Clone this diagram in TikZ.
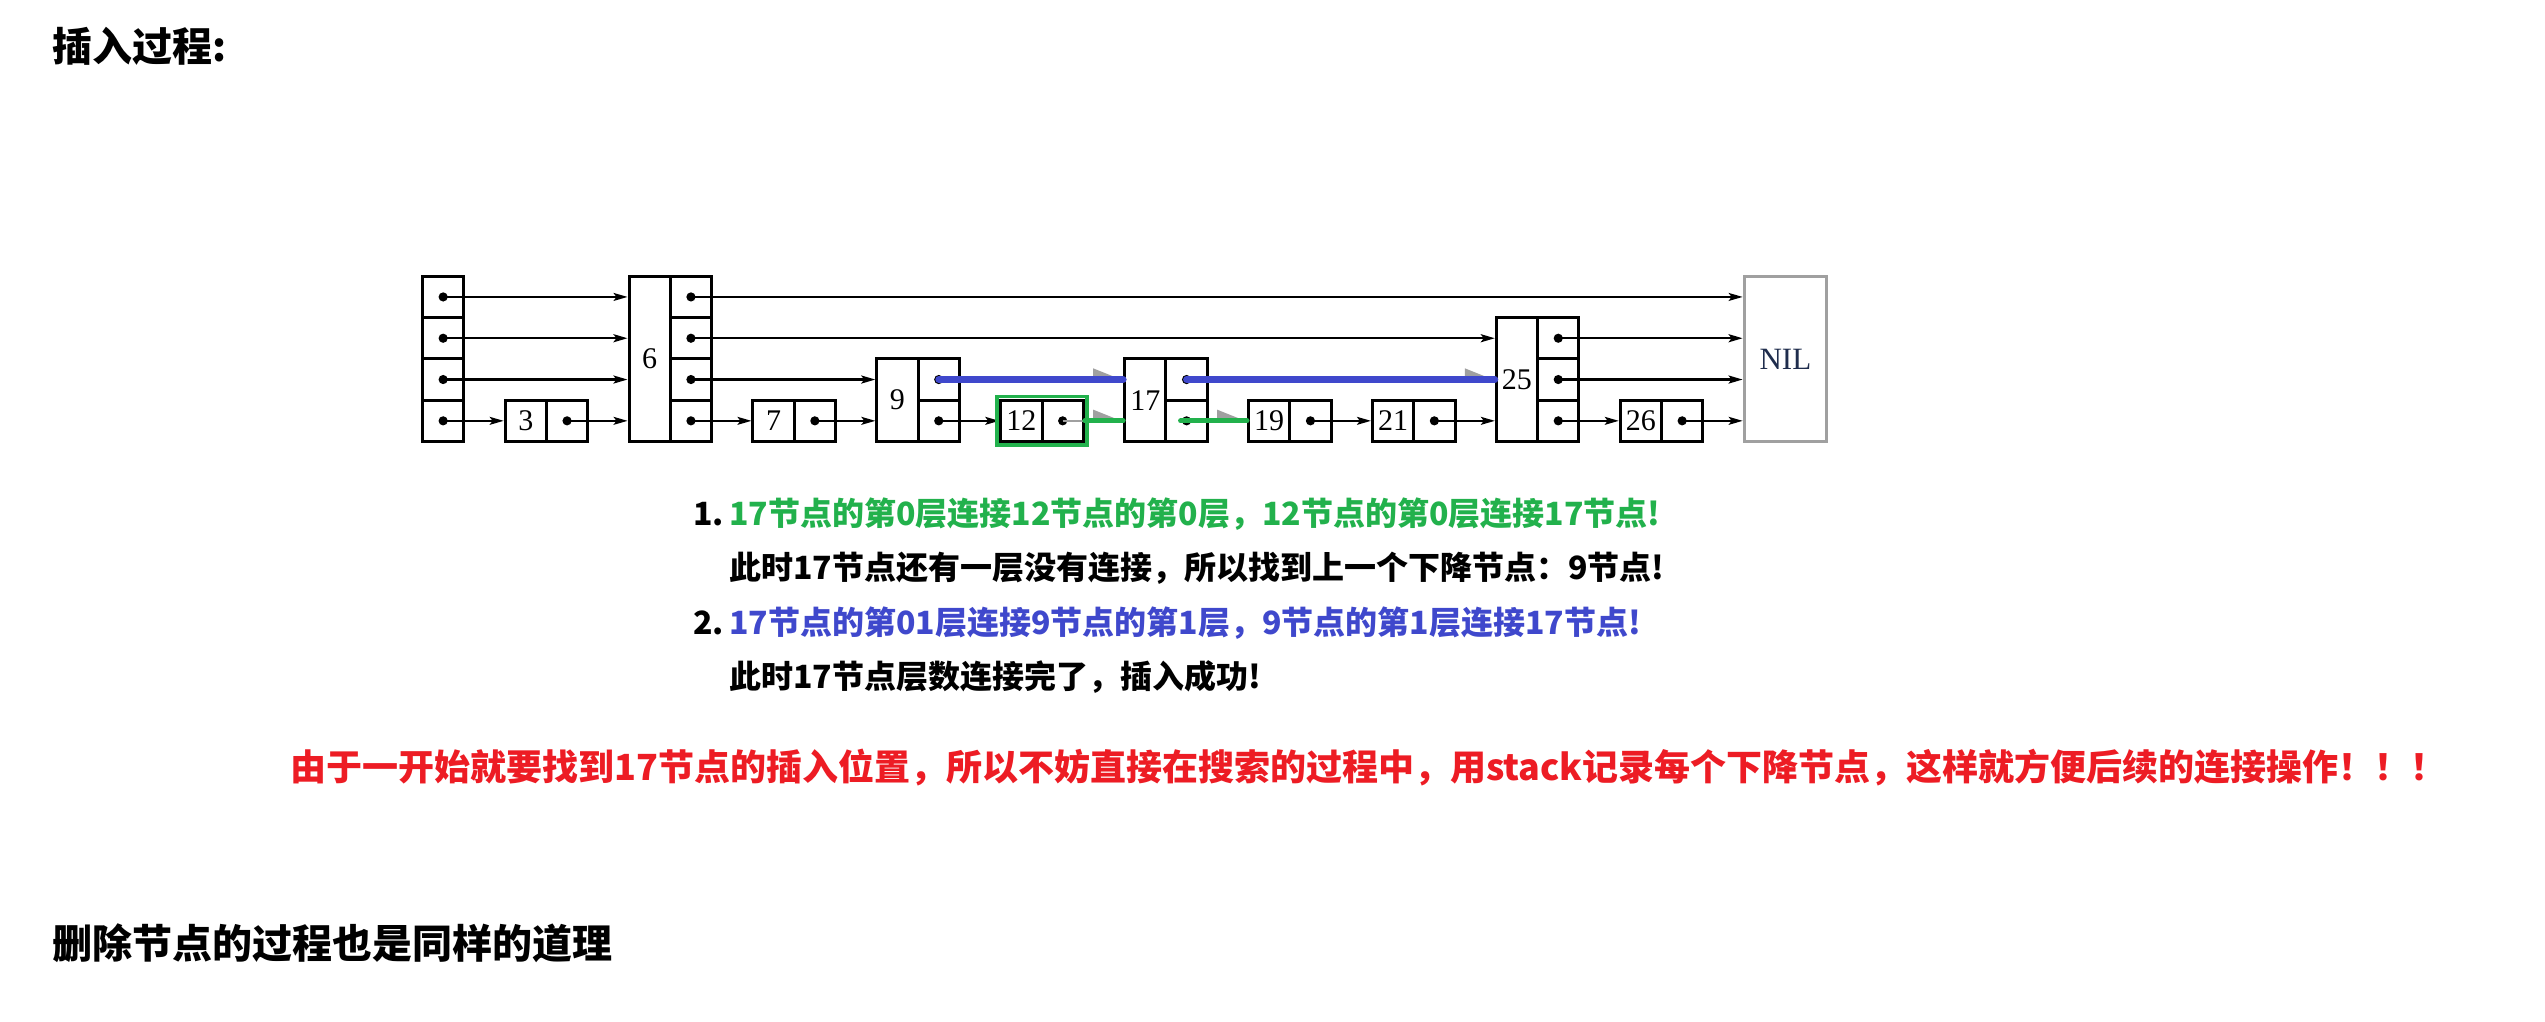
\documentclass[tikz,border=0pt]{standalone}
\usepackage{fontspec}
\setmainfont{Liberation Serif}
\newfontfamily\cjk{Noto Sans CJK SC}
\usepackage{tikz}
\usetikzlibrary{arrows.meta}
\usetikzlibrary{calc}
\definecolor{markgreen}{HTML}{22B14C}
\definecolor{markblue}{HTML}{3F48CC}
\definecolor{markred}{HTML}{ED1C24}
\definecolor{tipgray}{HTML}{A0A0A0}
\definecolor{nilblue}{HTML}{1F2D4D}

\newcommand{\elem}[4]{
  \node[keybox, minimum height=#3*41.3pt] (k#1) at (#2,0) {#4};
  \foreach \l in {1,...,#3} {
    \pgfmathtruncatemacro\lv{\l-1}
    \node[cellbox] (p#1-\lv) at (#2+1,\lv) {};
    \fill (p#1-\lv.center) circle[radius=4.6pt];
  }
}

\begin{document}
\begin{tikzpicture}[x=1pt, y=1pt,
    keybox/.style={draw, line width=3pt, minimum width=41.3pt, inner sep=0pt, anchor=south west, font=\fontsize{30}{34}\selectfont},
    cellbox/.style={draw, line width=3pt, minimum width=41.3pt, minimum height=41.3pt, inner sep=0pt, anchor=south west},
    nilbox/.style={draw=tipgray, line width=3pt, minimum width=82.6pt, minimum height=165.2pt, inner sep=0pt, anchor=south west, text=nilblue, font=\fontsize{31}{35}\selectfont},
    ptr/.style={line width=#1, -{Stealth[length=14pt, width=8pt, inset=3pt]}},
    ptr/.default=1.5pt,
    grayptr/.style={line width=1.5pt, tipgray, -{Triangle[left, length=28pt, width=22pt]}},
    bluemark/.style={markblue, line width=7pt, line cap=round},
    greenmark/.style={markgreen, line width=5pt, line cap=round},
    head/.style={inner sep=0pt, anchor=west, font=\cjk\bfseries\fontsize{40}{48}\selectfont},
    item/.style={inner sep=0pt, anchor=west, font=\cjk\bfseries\fontsize{32}{38}\selectfont}]
    \path[fill=white] (0,0) rectangle (2545,1022);

    \node[head] (title) at (52,976) {插入过程:};

    \begin{scope}[shift={(421,579)}, x=41.3pt, y=41.3pt]
        \foreach \l in {0,...,3} {
            \node[cellbox] (ph-\l) at (0,\l) {};
            \fill (ph-\l.center) circle[radius=4.6pt];
        }
        \elem{3}{2}{1}{3}
        \elem{6}{5}{4}{6}
        \elem{7}{8}{1}{7}
        \elem{9}{11}{2}{9}
        \elem{12}{14}{1}{12}
        \elem{17}{17}{2}{17}
        \elem{19}{20}{1}{19}
        \elem{21}{23}{1}{21}
        \elem{25}{26}{3}{25}
        \elem{26}{29}{1}{26}
        \node[nilbox] (knil) at (32,0) {NIL};

        \foreach \a/\b/\l/\w in {h/6/3/1.5, 6/nil/3/1.5, h/6/2/2.4, 6/25/2/2.4, 25/nil/2/2.4,
                                h/6/1/2.4, 6/9/1/2.4, 25/nil/1/2.4, h/3/0/1.5, 3/6/0/1.5,
                                6/7/0/1.5, 7/9/0/1.5, 9/12/0/1.5, 19/21/0/1.5, 21/25/0/1.5,
                                25/26/0/1.5, 26/nil/0/1.5}
            \draw[ptr=\w pt] (p\a-\l.center) -- (k\b.west |- p\a-\l.center);

        \draw[grayptr] (p9-1.center) -- (k17.west |- p9-1.center);
        \draw[bluemark] (p9-1.center) -- (k17.west |- p9-1.center);
        \draw[grayptr] (p17-1.center) -- (k25.west |- p17-1.center);
        \draw[bluemark] (p17-1.center) -- (k25.west |- p17-1.center);
        \draw[grayptr] (p12-0.center) -- (k17.west |- p12-0.center);
        \draw[greenmark] (p12-0.east) -- (k17.west |- p12-0.center);
        \draw[grayptr] (p17-0.center) -- (k19.west |- p17-0.center);
        \draw[greenmark] ($(p17-0.center)+(-6pt,0)$) -- (k19.west |- p17-0.center);
        \draw[markgreen, line width=3.5pt] ($(k12.south west)+(-2pt,-2pt)$) rectangle ($(p12-0.north east)+(2pt,2pt)$);
    \end{scope}

    \node[item] (n1) at (693,508) {1.};
    \node[item, markgreen] (t1) at (729,508) {17节点的第0层连接12节点的第0层，12节点的第0层连接17节点!};
    \node[item] (t2) at (729,454) {此时17节点还有一层没有连接，所以找到上一个下降节点：9节点!};
    \node[item] (n2) at (693,399) {2.};
    \node[item, markblue] (t3) at (729,399) {17节点的第01层连接9节点的第1层，9节点的第1层连接17节点!};
    \node[item] (t4) at (729,345) {此时17节点层数连接完了，插入成功!};

    \node[head, markred, font=\cjk\bfseries\fontsize{36}{44}\selectfont] (note) at (290,254) {由于一开始就要找到17节点的插入位置，所以不妨直接在搜索的过程中，用stack记录每个下降节点，这样就方便后续的连接操作！！！};

    \node[head] (del) at (52,79) {删除节点的过程也是同样的道理};
\end{tikzpicture}
\end{document}
